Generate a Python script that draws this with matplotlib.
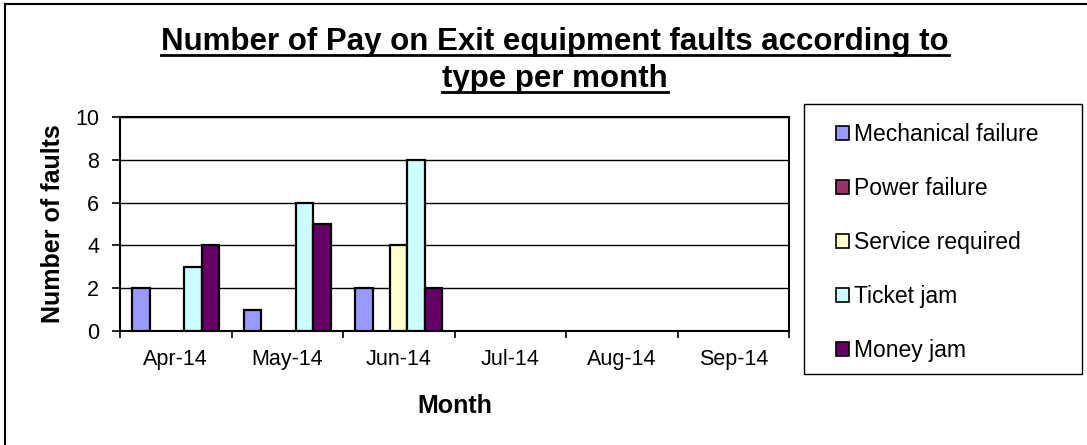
import matplotlib
matplotlib.use('Agg')
import matplotlib.pyplot as plt
import numpy as np
from matplotlib.lines import Line2D
from matplotlib.patches import Patch, Rectangle

plt.rcParams['font.family'] = ['Liberation Sans', 'DejaVu Sans']

months = ['Apr-14', 'May-14', 'Jun-14', 'Jul-14', 'Aug-14', 'Sep-14']
fault_types = ['Mechanical failure', 'Power failure', 'Service required',
               'Ticket jam', 'Money jam']
mechanical = [2, 1, 2, 0, 0, 0]
power = [0, 0, 0, 0, 0, 0]
service = [0, 0, 4, 0, 0, 0]
ticket = [3, 6, 8, 0, 0, 0]
money = [4, 5, 2, 0, 0, 0]
colors = ['#9999FF', '#993366', '#FFFFCC', '#CCFFFF', '#660066']

W, H = 1087, 445
fig = plt.figure(figsize=(W / 100, H / 100), dpi=100)
ax = fig.add_axes([120 / W, 1 - 331 / H, 669 / W, 214 / H])

x = np.arange(len(months))
w = 0.156
series = [mechanical, power, service, ticket, money]
for k, (vals, c) in enumerate(zip(series, colors)):
    # zero-height bars get no outline so they don't thicken the axis line
    edges = ['black' if v > 0 else 'none' for v in vals]
    ax.bar(x + (k - 2) * w, vals, w, color=c, edgecolor=edges,
           linewidth=1.6, zorder=3)

ax.set_xlim(-0.5, len(months) - 0.5)
ax.set_ylim(0, 10)
ax.set_yticks(range(0, 11, 2))
ax.yaxis.grid(True, color='black', linewidth=1)
ax.set_axisbelow(True)
ax.set_xticks(np.arange(-0.5, len(months), 1))
ax.set_xticklabels([])
ax.set_xticks(x, minor=True)
ax.set_xticklabels(months, minor=True)
ax.tick_params(axis='x', which='minor', length=0, pad=13, labelsize=15.5)
ax.tick_params(axis='x', which='major', length=5, width=1.2)
ax.tick_params(axis='y', length=6, width=1.2, pad=9, labelsize=15.5)
for s in ax.spines.values():
    s.set_linewidth(1.5)

ax.set_ylabel('Number of faults', fontsize=18, fontweight='bold', labelpad=7)
ax.set_xlabel('Month', fontsize=18, fontweight='bold', labelpad=17)

# title with underline
t1 = fig.text(555 / W, 1 - 42 / H, 'Number of Pay on Exit equipment faults according to',
              ha='center', va='center', fontsize=22.5, fontweight='bold')
t2 = fig.text(555 / W, 1 - 79 / H, 'type per month',
              ha='center', va='center', fontsize=22.5, fontweight='bold')

# legend box
fig.add_artist(Rectangle((804 / W, 1 - 374 / H), 278 / W, 270 / H,
                         transform=fig.transFigure, facecolor='white',
                         edgecolor='black', linewidth=1.0))
handles = [Patch(facecolor=c, edgecolor='black', linewidth=1.2) for c in colors]
leg = fig.legend(handles, fault_types, loc='upper left',
                 bbox_to_anchor=(836 / W, 1 - 123 / H),
                 borderaxespad=0, borderpad=0, fontsize=16.5,
                 handlelength=0.55, handleheight=0.55, handletextpad=0.25,
                 labelspacing=1.35, frameon=False)

# outer chart frame (only top and left edges visible in the crop)
fig.add_artist(Line2D([5 / W, 1], [1 - 4 / H, 1 - 4 / H], color='black', linewidth=1.5))
fig.add_artist(Line2D([5 / W, 5 / W], [0, 1 - 4 / H], color='black', linewidth=1.5))

fig.canvas.draw()
r = fig.canvas.get_renderer()
for t in (t1, t2):
    bb = t.get_window_extent(r)
    y = bb.y0 + 2
    fig.add_artist(Line2D([bb.x0 / W, bb.x1 / W], [y / H, y / H],
                          color='black', linewidth=2))

fig.savefig('out.png', dpi=100)
